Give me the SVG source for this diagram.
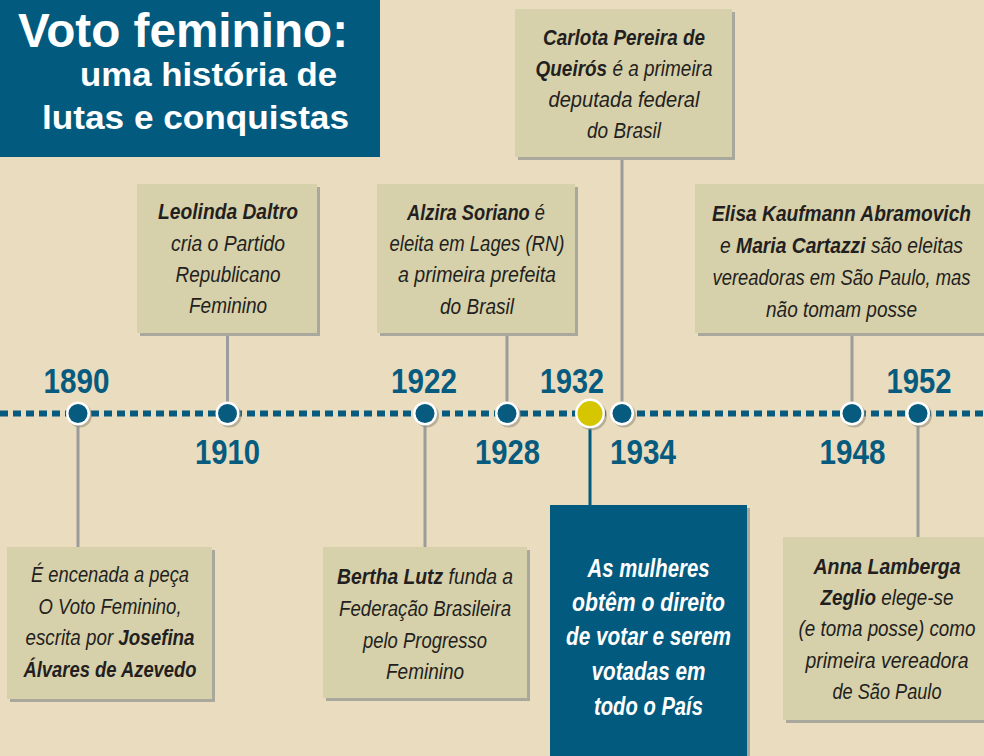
<svg xmlns="http://www.w3.org/2000/svg" width="984" height="756" viewBox="0 0 984 756">
<style>
.bg{fill:#eadcbe}
.box{fill:#d7d1ab}
.shd{fill:#a9a89c}
.bluebox{fill:#025a7e}
.t{font-family:"Liberation Sans",Arial,sans-serif;font-style:italic;font-size:22px;fill:#231f20;text-anchor:middle}
.b{font-weight:bold}
.w{font-family:"Liberation Sans",Arial,sans-serif;font-style:italic;font-weight:bold;font-size:25px;fill:#ffffff;text-anchor:middle}
.yr{font-family:"Liberation Sans",Arial,sans-serif;font-weight:bold;font-size:36px;fill:#065b7e;text-anchor:middle}
.ttl{font-family:"Liberation Sans",Arial,sans-serif;font-weight:bold;fill:#ffffff}
.con{stroke:#9c9c9c;stroke-width:3;fill:none}
.dotw{fill:#ffffff}
.dotb{fill:#065b7e}
.dsh{fill:#8f8a7a;opacity:0.55}
</style>
<rect class="bg" x="0" y="0" width="984" height="756"/>

<g id="title">
<rect x="0" y="0" width="380" height="157" fill="#025a7e"/>
<text class="ttl" x="18" y="47" font-size="48" textLength="330" lengthAdjust="spacingAndGlyphs">Voto feminino:</text>
<text class="ttl" x="80" y="86" font-size="34" textLength="257" lengthAdjust="spacingAndGlyphs">uma história de</text>
<text class="ttl" x="42" y="129" font-size="34" textLength="307" lengthAdjust="spacingAndGlyphs">lutas e conquistas</text>
</g>

<g id="connectors">
<line class="con" x1="78" y1="425" x2="78" y2="548"/>
<line class="con" x1="227.5" y1="333" x2="227.5" y2="403"/>
<line class="con" x1="425" y1="425" x2="425" y2="548"/>
<line class="con" x1="507" y1="333" x2="507" y2="403"/>
<line x1="590" y1="428" x2="590" y2="506" stroke="#025a7e" stroke-width="3"/>
<line class="con" x1="622" y1="157" x2="622" y2="403"/>
<line class="con" x1="852" y1="333" x2="852" y2="403"/>
<line class="con" x1="918" y1="425" x2="918" y2="538"/>
</g>

<g id="timeline">
<line x1="0" y1="413.5" x2="984" y2="413.5" stroke="#065b7e" stroke-width="6" stroke-dasharray="8 5"/>
</g>

<g id="dot-1890"><circle class="dsh" cx="80" cy="415.5" r="12"/><circle class="dotw" cx="78" cy="413.5" r="12"/><circle class="dotb" cx="78" cy="413.5" r="9.5"/></g>
<g id="dot-1910"><circle class="dsh" cx="229.5" cy="415.5" r="12"/><circle class="dotw" cx="227.5" cy="413.5" r="12"/><circle class="dotb" cx="227.5" cy="413.5" r="9.5"/></g>
<g id="dot-1922"><circle class="dsh" cx="427" cy="415.5" r="12"/><circle class="dotw" cx="425" cy="413.5" r="12"/><circle class="dotb" cx="425" cy="413.5" r="9.5"/></g>
<g id="dot-1928"><circle class="dsh" cx="509" cy="415.5" r="12"/><circle class="dotw" cx="507" cy="413.5" r="12"/><circle class="dotb" cx="507" cy="413.5" r="9.5"/></g>
<g id="dot-1932"><circle class="dsh" cx="592" cy="415.5" r="15"/><circle class="dotw" cx="590" cy="413.5" r="15"/><circle fill="#d6c600" cx="590" cy="413.5" r="12.5"/></g>
<g id="dot-1934"><circle class="dsh" cx="624" cy="415.5" r="12"/><circle class="dotw" cx="622" cy="413.5" r="12"/><circle class="dotb" cx="622" cy="413.5" r="9.5"/></g>
<g id="dot-1948"><circle class="dsh" cx="854" cy="415.5" r="12"/><circle class="dotw" cx="852" cy="413.5" r="12"/><circle class="dotb" cx="852" cy="413.5" r="9.5"/></g>
<g id="dot-1952"><circle class="dsh" cx="920" cy="415.5" r="12"/><circle class="dotw" cx="918" cy="413.5" r="12"/><circle class="dotb" cx="918" cy="413.5" r="9.5"/></g>

<g id="years">
<text class="yr" transform="translate(76.5,393) scale(0.825,1)" textLength="80" lengthAdjust="spacingAndGlyphs">1890</text>
<text class="yr" transform="translate(227.5,464) scale(0.825,1)" textLength="78.8" lengthAdjust="spacingAndGlyphs">1910</text>
<text class="yr" transform="translate(424,393) scale(0.825,1)" textLength="80" lengthAdjust="spacingAndGlyphs">1922</text>
<text class="yr" transform="translate(507.5,464) scale(0.825,1)" textLength="78.8" lengthAdjust="spacingAndGlyphs">1928</text>
<text class="yr" transform="translate(572,393) scale(0.825,1)" textLength="77.6" lengthAdjust="spacingAndGlyphs">1932</text>
<text class="yr" transform="translate(643,464) scale(0.825,1)" textLength="80" lengthAdjust="spacingAndGlyphs">1934</text>
<text class="yr" transform="translate(852.5,464) scale(0.825,1)" textLength="80" lengthAdjust="spacingAndGlyphs">1948</text>
<text class="yr" transform="translate(919,393) scale(0.825,1)" textLength="78.8" lengthAdjust="spacingAndGlyphs">1952</text>
</g>

<g id="node-1910">
<rect class="shd" x="140" y="187" width="180" height="149"/>
<rect class="box" x="137" y="184" width="180" height="149"/>
<text class="t b" transform="translate(228,219) scale(0.87,1)" textLength="160.9" lengthAdjust="spacingAndGlyphs">Leolinda Daltro</text>
<text class="t" transform="translate(228,251) scale(0.87,1)" textLength="131" lengthAdjust="spacingAndGlyphs">cria o Partido</text>
<text class="t" transform="translate(228,282) scale(0.87,1)" textLength="120.7" lengthAdjust="spacingAndGlyphs">Republicano</text>
<text class="t" transform="translate(228,313) scale(0.87,1)" textLength="89.7" lengthAdjust="spacingAndGlyphs">Feminino</text>
</g>

<g id="node-1928">
<rect class="shd" x="380" y="187" width="198" height="149"/>
<rect class="box" x="377" y="184" width="198" height="149"/>
<text class="t" transform="translate(476,220) scale(0.831,1)" textLength="166" lengthAdjust="spacingAndGlyphs"><tspan class="b">Alzira Soriano</tspan> é</text>
<text class="t" transform="translate(477,251) scale(0.87,1)" textLength="201.1" lengthAdjust="spacingAndGlyphs">eleita em Lages (RN)</text>
<text class="t" transform="translate(477,282) scale(0.87,1)" textLength="181.6" lengthAdjust="spacingAndGlyphs">a primeira prefeita</text>
<text class="t" transform="translate(477,314) scale(0.87,1)" textLength="85.1" lengthAdjust="spacingAndGlyphs">do Brasil</text>
</g>

<g id="node-1934">
<rect class="shd" x="518" y="12" width="217" height="148"/>
<rect class="box" x="515" y="9" width="217" height="148"/>
<text class="t b" transform="translate(624,45) scale(0.87,1)" textLength="186.2" lengthAdjust="spacingAndGlyphs">Carlota Pereira de</text>
<text class="t" transform="translate(624,76) scale(0.87,1)" textLength="203.4" lengthAdjust="spacingAndGlyphs"><tspan class="b">Queirós</tspan> é a primeira</text>
<text class="t" transform="translate(624,107) scale(0.87,1)" textLength="173.6" lengthAdjust="spacingAndGlyphs">deputada federal</text>
<text class="t" transform="translate(624,138) scale(0.87,1)" textLength="85.1" lengthAdjust="spacingAndGlyphs">do Brasil</text>
</g>

<g id="node-1948">
<rect class="shd" x="698" y="187" width="286" height="149"/>
<rect class="box" x="695" y="184" width="289" height="149"/>
<text class="t b" transform="translate(841.5,221) scale(0.87,1)" textLength="297.7" lengthAdjust="spacingAndGlyphs">Elisa Kaufmann Abramovich</text>
<text class="t" transform="translate(841.5,253) scale(0.87,1)" textLength="279.3" lengthAdjust="spacingAndGlyphs">e <tspan class="b">Maria Cartazzi</tspan> são eleitas</text>
<text class="t" transform="translate(841.5,285) scale(0.87,1)" textLength="296.6" lengthAdjust="spacingAndGlyphs">vereadoras em São Paulo, mas</text>
<text class="t" transform="translate(841.5,317) scale(0.87,1)" textLength="173.6" lengthAdjust="spacingAndGlyphs">não tomam posse</text>
</g>

<g id="node-1890">
<rect class="shd" x="10" y="550" width="205" height="152"/>
<rect class="box" x="7" y="547" width="205" height="152"/>
<text class="t" transform="translate(110,582) scale(0.87,1)" textLength="181.6" lengthAdjust="spacingAndGlyphs">É encenada a peça</text>
<text class="t" transform="translate(110,614) scale(0.87,1)" textLength="164.4" lengthAdjust="spacingAndGlyphs">O Voto Feminino,</text>
<text class="t" transform="translate(110,645) scale(0.87,1)" textLength="194.3" lengthAdjust="spacingAndGlyphs">escrita por <tspan class="b">Josefina</tspan></text>
<text class="t b" transform="translate(110,677) scale(0.87,1)" textLength="198.9" lengthAdjust="spacingAndGlyphs">Álvares de Azevedo</text>
</g>

<g id="node-1922">
<rect class="shd" x="326" y="550" width="204" height="151"/>
<rect class="box" x="323" y="547" width="204" height="151"/>
<text class="t" transform="translate(425,584) scale(0.87,1)" textLength="202.3" lengthAdjust="spacingAndGlyphs"><tspan class="b">Bertha Lutz</tspan> funda a</text>
<text class="t" transform="translate(425,616) scale(0.87,1)" textLength="197.7" lengthAdjust="spacingAndGlyphs">Federação Brasileira</text>
<text class="t" transform="translate(425,648) scale(0.87,1)" textLength="142.5" lengthAdjust="spacingAndGlyphs">pelo Progresso</text>
<text class="t" transform="translate(425,679) scale(0.87,1)" textLength="89.7" lengthAdjust="spacingAndGlyphs">Feminino</text>
</g>

<g id="node-1932">
<rect class="shd" x="553" y="508" width="197" height="248"/>
<rect class="bluebox" x="550" y="505" width="197" height="251"/>
<text class="w" transform="translate(648.5,577) scale(0.85,1)" textLength="143.5" lengthAdjust="spacingAndGlyphs">As mulheres</text>
<text class="w" transform="translate(648.5,611) scale(0.85,1)" textLength="180" lengthAdjust="spacingAndGlyphs">obtêm o direito</text>
<text class="w" transform="translate(648.5,645) scale(0.85,1)" textLength="194.1" lengthAdjust="spacingAndGlyphs">de votar e serem</text>
<text class="w" transform="translate(648.5,680) scale(0.85,1)" textLength="134.1" lengthAdjust="spacingAndGlyphs">votadas em</text>
<text class="w" transform="translate(648.5,715) scale(0.85,1)" textLength="128.2" lengthAdjust="spacingAndGlyphs">todo o País</text>
</g>

<g id="node-1952">
<rect class="shd" x="786" y="540" width="198" height="183"/>
<rect class="box" x="783" y="537" width="201" height="183"/>
<text class="t b" transform="translate(887,574) scale(0.87,1)" textLength="169" lengthAdjust="spacingAndGlyphs">Anna Lamberga</text>
<text class="t" transform="translate(887,605) scale(0.87,1)" textLength="152.9" lengthAdjust="spacingAndGlyphs"><tspan class="b">Zeglio</tspan> elege-se</text>
<text class="t" transform="translate(887,636) scale(0.87,1)" textLength="203.4" lengthAdjust="spacingAndGlyphs">(e toma posse) como</text>
<text class="t" transform="translate(887,668) scale(0.87,1)" textLength="187.4" lengthAdjust="spacingAndGlyphs">primeira vereadora</text>
<text class="t" transform="translate(887,699) scale(0.87,1)" textLength="125.3" lengthAdjust="spacingAndGlyphs">de São Paulo</text>
</g>
</svg>
